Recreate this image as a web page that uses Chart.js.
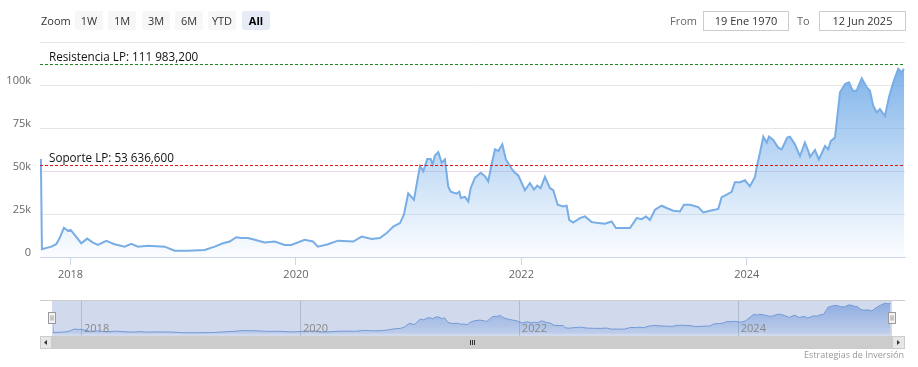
<!DOCTYPE html>
<html>
<head>
<meta charset="utf-8">
<script src="https://cdn.jsdelivr.net/npm/chart.js@4.4.1/dist/chart.umd.min.js"></script>
<style>
    body { margin: 0; background: #fff; font-family: "Open Sans", sans-serif; }
    #wrap { position: relative; width: 918px; height: 367px; overflow: hidden; }
    canvas { position: absolute; left: 0; }
    .txt { position: absolute; font-size: 11px; color: #666; line-height: 19px; }
    .btn { position: absolute; top: 11px; width: 28px; height: 19px; line-height: 19px; background: #f7f7f7;
           font-size: 11px; color: #333; text-align: center; border-radius: 2px; }
    .btn.sel { background: #e6ebf5; color: #000; font-weight: bold; }
    .box { position: absolute; top: 11px; height: 18px; line-height: 18px; border: 1px solid #cccccc;
           font-size: 11px; color: #333; text-align: center; }
    #credit { position: absolute; right: 14px; top: 348px; font-size: 9px; color: #999; }
</style>
</head>
<body>
<div id="wrap">
    <canvas id="mainChart" width="918" height="290" style="top:0"></canvas>
    <canvas id="navChart" width="918" height="62" style="top:290px"></canvas>

    <div class="txt" style="left:41px;top:11px;color:#333">Zoom</div>
    <div class="btn" style="left:75px">1W</div>
    <div class="btn" style="left:108px">1M</div>
    <div class="btn" style="left:142px">3M</div>
    <div class="btn" style="left:175px">6M</div>
    <div class="btn" style="left:208px">YTD</div>
    <div class="btn sel" style="left:242px">All</div>

    <div class="txt" style="left:670px;top:11px">From</div>
    <div class="box" style="left:703px;width:84px">19 Ene 1970</div>
    <div class="txt" style="left:797px;top:11px">To</div>
    <div class="box" style="left:819px;width:85px">12 Jun 2025</div>

    <div id="credit">Estrategias de Inversión</div>
</div>

<script>
// Colors
const LINE_BLUE = '#78ade5';
const AXIS_COLOR = '#ccd6eb';
const GRID_COLOR = '#e6e6e6';
const NAV_LINE = '#7399d6';
const FONT = '"Open Sans", sans-serif';

// Data (decimal year, price)
const years = [
    2017.737, 2017.746, 2017.829, 2017.873, 2017.903, 2017.941, 2017.977, 2018.001, 2018.036, 2018.095,
    2018.148, 2018.199, 2018.243, 2018.317, 2018.391, 2018.480, 2018.539, 2018.598, 2018.687, 2018.835,
    2018.924, 2019.042, 2019.190, 2019.279, 2019.352, 2019.412, 2019.470, 2019.515, 2019.574, 2019.634,
    2019.722, 2019.811, 2019.900, 2019.958, 2020.077, 2020.151, 2020.195, 2020.284, 2020.373, 2020.508,
    2020.583, 2020.672, 2020.745, 2020.805, 2020.863, 2020.923, 2020.958, 2020.996, 2021.047, 2021.100,
    2021.130, 2021.165, 2021.195, 2021.213, 2021.233, 2021.263, 2021.293, 2021.322, 2021.351, 2021.373,
    2021.426, 2021.449, 2021.464, 2021.500, 2021.529, 2021.550, 2021.588, 2021.639, 2021.677, 2021.706,
    2021.736, 2021.766, 2021.795, 2021.831, 2021.863, 2021.914, 2021.943, 2021.973, 2022.032, 2022.076,
    2022.112, 2022.141, 2022.171, 2022.209, 2022.254, 2022.283, 2022.322, 2022.372, 2022.402, 2022.425,
    2022.460, 2022.520, 2022.564, 2022.624, 2022.682, 2022.742, 2022.801, 2022.839, 2022.890, 2022.964,
    2023.023, 2023.067, 2023.106, 2023.141, 2023.186, 2023.245, 2023.289, 2023.348, 2023.407, 2023.443,
    2023.496, 2023.570, 2023.614, 2023.674, 2023.747, 2023.777, 2023.822, 2023.866, 2023.895, 2023.940,
    2023.984, 2024.028, 2024.073, 2024.088, 2024.117, 2024.147, 2024.177, 2024.197, 2024.235, 2024.279,
    2024.310, 2024.359, 2024.383, 2024.427, 2024.472, 2024.516, 2024.546, 2024.561, 2024.605, 2024.640,
    2024.694, 2024.723, 2024.745, 2024.783, 2024.827, 2024.872, 2024.907, 2024.940, 2024.975, 2025.020,
    2025.064, 2025.093, 2025.122, 2025.153, 2025.182, 2025.226, 2025.265, 2025.300, 2025.344, 2025.374,
    2025.395
];
const prices = [
    57000, 4500, 6000, 7400, 11000, 17000, 15200, 15800, 12900, 8000,
    10700, 8400, 7000, 9400, 7400, 6000, 7600, 6000, 6600, 6000,
    3700, 3700, 4100, 6000, 8000, 9000, 11500, 11000, 11000, 10000,
    8400, 9000, 7000, 7000, 10000, 9000, 6000, 7400, 9500, 9000,
    11900, 10500, 11000, 13900, 17700, 19700, 24600, 37000, 33300, 52800,
    49900, 57000, 57000, 53800, 59000, 61000, 54800, 56700, 41000, 38000,
    36800, 38000, 34300, 35000, 32300, 40000, 46000, 49000, 47000, 44000,
    53800, 62600, 61600, 65500, 56700, 51300, 49000, 47400, 38800, 43000,
    39200, 41500, 40000, 46600, 40000, 38800, 30400, 29400, 29800, 21600,
    20000, 22600, 23600, 20300, 19700, 19300, 20600, 16800, 16800, 16800,
    22600, 22000, 23600, 21600, 27500, 29800, 28500, 26900, 26500, 30400,
    30400, 29000, 25900, 26900, 27900, 34800, 36300, 37900, 43500, 43500,
    44600, 41100, 46500, 51900, 60600, 70000, 66500, 70000, 68000, 63600,
    62600, 69400, 70000, 65500, 58700, 66500, 61600, 58300, 62200, 56700,
    64500, 62600, 67400, 69400, 95700, 100600, 101600, 96700, 96700, 103900,
    98700, 96700, 87900, 84000, 86000, 82000, 93700, 101600, 109400, 107400,
    109400
];

// Axis ticks
const tickYears = [2018, 2020, 2022, 2024];
const yTicks = [0, 25000, 50000, 75000, 100000, 125000];
const yTickLabels = ['0', '25k', '50k', '75k', '100k', ''];

// Reference levels
const resistance = 111983.2;
const support = 53636.6;
const resistanceLabel = 'Resistencia LP: 111 983,200';
const supportLabel = 'Soporte LP: 53 636,600';

const points = years.map((x, i) => ({ x: x, y: prices[i] }));

// Draws the dashed long-term levels with their labels
const levelsPlugin = {
    id: 'levels',
    afterDatasetsDraw(chart) {
        const { ctx, chartArea, scales } = chart;
        const levels = [
            { value: resistance, color: '#1f8a1f', text: resistanceLabel },
            { value: support, color: '#e3141b', text: supportLabel }
        ];
        ctx.save();
        levels.forEach(level => {
            const y = Math.round(scales.y.getPixelForValue(level.value)) + 0.5;
            ctx.strokeStyle = level.color;
            ctx.lineWidth = 1;
            ctx.setLineDash([3, 2]);
            ctx.beginPath();
            ctx.moveTo(chartArea.left, y);
            ctx.lineTo(chartArea.right, y);
            ctx.stroke();
            ctx.setLineDash([]);
            ctx.fillStyle = '#111';
            ctx.font = '11.7px ' + FONT;
            ctx.textBaseline = 'alphabetic';
            ctx.fillText(level.text, chartArea.left + 9, y - 4);
        });
        ctx.restore();
    }
};

function areaGradient(context, top, bottom) {
    const { chart } = context;
    const area = chart.chartArea;
    if (!area) return null;
    const g = chart.ctx.createLinearGradient(0, area.top, 0, area.bottom);
    g.addColorStop(0, top);
    g.addColorStop(1, bottom);
    return g;
}

new Chart(document.getElementById('mainChart'), {
    type: 'line',
    data: {
        datasets: [{
            data: points,
            borderColor: LINE_BLUE,
            borderWidth: 2,
            pointRadius: 0,
            tension: 0,
            fill: 'origin',
            backgroundColor: ctx => areaGradient(ctx, 'rgba(98,160,228,0.95)', 'rgba(124,181,236,0.03)')
        }]
    },
    options: {
        responsive: false,
        animation: false,
        devicePixelRatio: 1,
        layout: { padding: { top: 42, right: 13, bottom: 0, left: 0 } },
        plugins: { legend: { display: false }, tooltip: { enabled: false } },
        scales: {
            x: {
                type: 'linear',
                min: 2017.729,
                max: 2025.404,
                afterBuildTicks: s => { s.ticks = tickYears.map(v => ({ value: v })); },
                afterFit: s => { s.height = 33; },
                grid: { drawOnChartArea: false, drawTicks: true, tickLength: 8, color: AXIS_COLOR },
                border: { color: AXIS_COLOR, width: 1 },
                ticks: {
                    padding: 3, color: '#666', autoSkip: false, maxRotation: 0,
                    font: { family: FONT, size: 11 },
                    callback: v => String(v)
                }
            },
            y: {
                min: 0,
                max: 125000,
                afterBuildTicks: s => { s.ticks = yTicks.map(v => ({ value: v })); },
                afterFit: s => { s.width = 40; },
                grid: {
                    drawTicks: false,
                    color: ctx => ctx.tick && ctx.tick.value === 50000 ? '#efd6ec' : GRID_COLOR
                },
                border: { display: false },
                ticks: {
                    padding: 9, labelOffset: -4, color: '#666',
                    font: { family: FONT, size: 11 },
                    callback: (v, i) => yTickLabels[i]
                }
            }
        }
    },
    plugins: [levelsPlugin]
});

// Navigator: mask, grid, labels, handles and scrollbar
const navPlugin = {
    id: 'navChrome',
    beforeDatasetsDraw(chart) {
        const { ctx, chartArea, scales } = chart;
        ctx.save();
        ctx.fillStyle = 'rgba(102,133,194,0.3)';
        ctx.fillRect(chartArea.left - 1, chartArea.top, chartArea.right - chartArea.left + 2, chartArea.bottom - chartArea.top);
        ctx.strokeStyle = 'rgba(120,130,150,0.35)';
        ctx.lineWidth = 1;
        tickYears.forEach(yr => {
            const x = Math.round(scales.x.getPixelForValue(yr)) + 0.5;
            ctx.beginPath();
            ctx.moveTo(x, chartArea.top);
            ctx.lineTo(x, chartArea.bottom);
            ctx.stroke();
        });
        ctx.restore();
    },
    afterDatasetsDraw(chart) {
        const { ctx, chartArea, scales } = chart;
        ctx.save();
        // year labels
        ctx.fillStyle = '#888';
        ctx.font = '11px ' + FONT;
        ctx.textBaseline = 'middle';
        tickYears.forEach(yr => {
            const x = scales.x.getPixelForValue(yr);
            ctx.fillText(String(yr), x + 3, chartArea.bottom - 7);
        });
        // outline
        ctx.strokeStyle = '#cccccc';
        ctx.beginPath();
        ctx.moveTo(40, chartArea.top + 0.5);
        ctx.lineTo(905, chartArea.top + 0.5);
        ctx.stroke();
        // scrollbar
        const sy = chartArea.bottom, sh = 13;
        ctx.fillStyle = '#f2f2f2';
        ctx.fillRect(40, sy, 865, sh);
        ctx.fillStyle = '#cccccc';
        ctx.fillRect(chartArea.left - 1, sy, chartArea.right - chartArea.left + 2, sh);
        ctx.fillStyle = '#e6e6e6';
        ctx.fillRect(40, sy, 12, sh);
        ctx.fillRect(892, sy, 13, sh);
        ctx.strokeStyle = '#cccccc';
        ctx.strokeRect(40.5, sy + 0.5, 11, sh - 1);
        ctx.strokeRect(892.5, sy + 0.5, 12, sh - 1);
        ctx.fillStyle = '#333';
        ctx.beginPath();
        ctx.moveTo(44, sy + 6.5); ctx.lineTo(47, sy + 4); ctx.lineTo(47, sy + 9); ctx.closePath(); ctx.fill();
        ctx.beginPath();
        ctx.moveTo(900, sy + 6.5); ctx.lineTo(897, sy + 4); ctx.lineTo(897, sy + 9); ctx.closePath(); ctx.fill();
        const gx = Math.round((chartArea.left + chartArea.right) / 2);
        ctx.strokeStyle = '#333';
        [-2, 0, 2].forEach(d => {
            ctx.beginPath();
            ctx.moveTo(gx + d + 0.5, sy + 4);
            ctx.lineTo(gx + d + 0.5, sy + 9);
            ctx.stroke();
        });
        // handles
        [chartArea.left - 1, chartArea.right + 1].forEach(hx => {
            const x = Math.round(hx) - 3.5, y = chartArea.top + 12.5;
            ctx.fillStyle = '#f2f2f2';
            ctx.fillRect(x, y, 7, 11);
            ctx.strokeStyle = '#999';
            ctx.strokeRect(x, y, 7, 11);
            ctx.beginPath();
            ctx.moveTo(x + 2.5, y + 3); ctx.lineTo(x + 2.5, y + 8);
            ctx.moveTo(x + 4.5, y + 3); ctx.lineTo(x + 4.5, y + 8);
            ctx.stroke();
        });
        ctx.restore();
    }
};

new Chart(document.getElementById('navChart'), {
    type: 'line',
    data: {
        datasets: [{
            data: points,
            borderColor: NAV_LINE,
            borderWidth: 1,
            pointRadius: 0,
            tension: 0,
            fill: 'origin',
            backgroundColor: ctx => areaGradient(ctx, 'rgba(80,130,215,0.55)', 'rgba(80,130,215,0.12)')
        }]
    },
    options: {
        responsive: false,
        animation: false,
        devicePixelRatio: 1,
        layout: { padding: { top: 10, right: 27, bottom: 16, left: 53 } },
        plugins: { legend: { display: false }, tooltip: { enabled: false } },
        scales: {
            x: { type: 'linear', display: false, min: 2017.744, max: 2025.40 },
            y: { display: false, min: -8000, max: 121000 }
        }
    },
    plugins: [navPlugin]
});
</script>
</body>
</html>
